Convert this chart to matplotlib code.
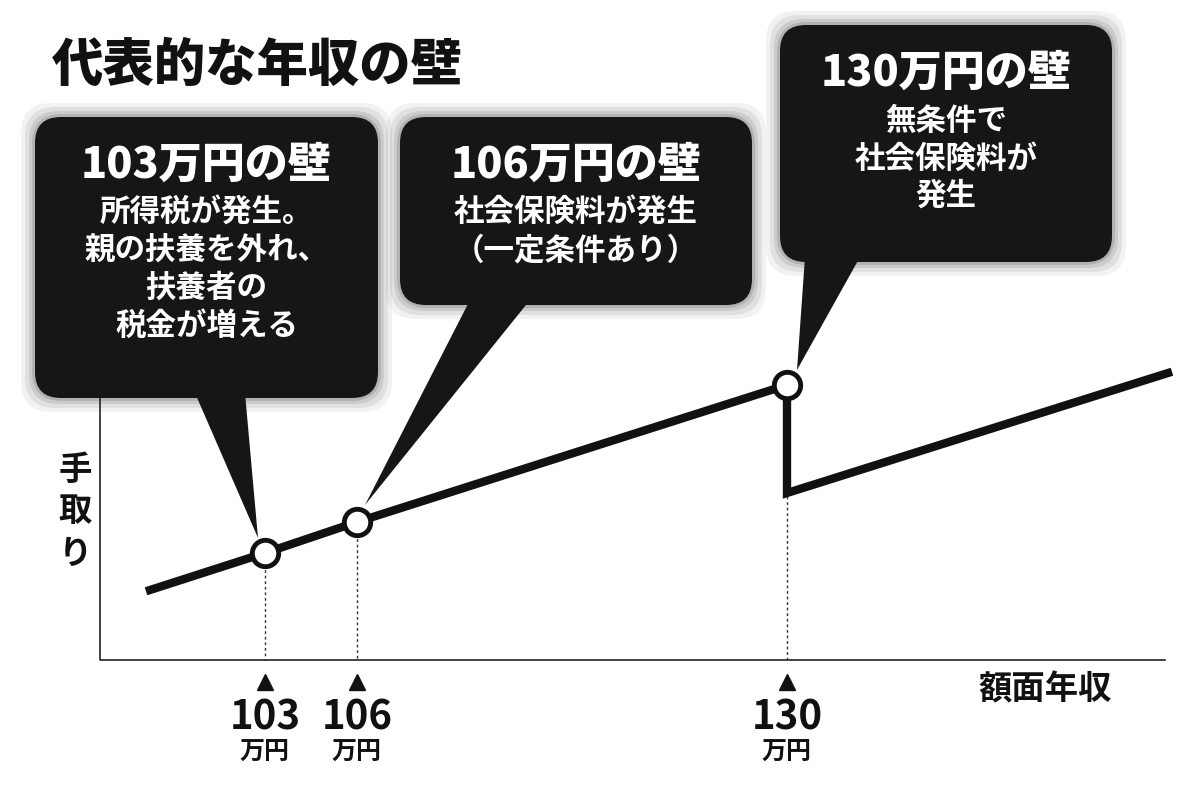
import numpy as np
import matplotlib.pyplot as plt
from matplotlib.patches import FancyBboxPatch, Polygon

plt.rcParams['font.family'] = ['Noto Sans CJK JP', 'DejaVu Sans']

# schematic line in picture units (x: left->right, y: top->bottom)
line_x = [150, 265, 357, 787, 787, 1168]
line_y = [590, 553, 522, 385, 493, 373]
wall_x = [265, 357, 787]
wall_y = [553, 522, 385]
wall_num = ['103', '106', '130']

boxes = [
    # x0, y0, x1, y1, tip, base, title, body
    (35, 117, 378, 398, (258, 538), (195, 245), '103万円の壁',
     '所得税が発生。\n親の扶養を外れ、\n扶養者の\n税金が増える'),
    (400, 117, 752, 305, (365, 505), (470, 530), '106万円の壁',
     '社会保険料が発生\n（一定条件あり）'),
    (780, 25, 1112, 262, (797, 370), (805, 860), '130万円の壁',
     '無条件で\n社会保険料が\n発生'),
]

fig = plt.figure(figsize=(12, 8.08), dpi=100)
ax = fig.add_axes([0, 0, 1, 1])
ax.set_xlim(0, 1200)
ax.set_ylim(808, 0)
ax.axis('off')

# axes frame
ax.plot([100, 100, 1165], [395, 660, 660], color='#222', lw=1.2)

ax.text(52, 66, '代表的な年収の壁', fontsize=37, fontweight='black',
        va='center', ha='left', color='#111')

# callouts with soft shadow
for x0, y0, x1, y1, tip, base, title, body in boxes:
    for k, a in [(14, 0.05), (10, 0.07), (6, 0.09), (3, 0.12)]:
        ax.add_patch(FancyBboxPatch((x0 - k, y0 - k), x1 - x0 + 2 * k, y1 - y0 + 2 * k,
                                    boxstyle='round,pad=0,rounding_size=30',
                                    fc='black', ec='none', alpha=a, zorder=1))
    ax.add_patch(FancyBboxPatch((x0, y0), x1 - x0, y1 - y0,
                                boxstyle='round,pad=0,rounding_size=26',
                                fc='#161616', ec='none', zorder=2))
    ax.add_patch(Polygon([(base[0], y1 - 5), (base[1], y1 - 5), tip],
                         closed=True, fc='#161616', ec='none', zorder=2))
    cx = (x0 + x1) / 2
    ax.text(cx, y0 + 48, title, fontsize=31, fontweight='black', color='white',
            ha='center', va='center', zorder=3)
    ax.text(cx, y0 + 80, body, fontsize=22, fontweight='bold', color='white',
            ha='center', va='top', linespacing=1.22, zorder=3)

# dotted guides, markers and labels
for x, y, n in zip(wall_x, wall_y, wall_num):
    ax.plot([x, x], [y, 660], color='#333', lw=1, ls=(0, (2, 2)), zorder=3)
    ax.plot(x, 682, marker='^', ms=12, color='#111', zorder=3)
    ax.text(x, 718, n, fontsize=29, fontweight='bold', ha='center', va='center',
            color='#111')
    ax.text(x, 753, '万円', fontsize=18, fontweight='bold', ha='center', va='center',
            color='#111')

ax.plot(line_x, line_y, color='#111', lw=6, solid_joinstyle='miter', zorder=4)
ax.plot(wall_x, wall_y, 'o', ms=19, mfc='white', mec='#111', mew=3.5, zorder=5)

for i, ch in enumerate('手取り'):
    ax.text(75, 470 + i * 42, ch, fontsize=24, fontweight='bold', ha='center',
            va='center', color='#111')
ax.text(1045, 690, '額面年収', fontsize=24, fontweight='bold', ha='center',
        va='center', color='#111')

fig.savefig('out.png', dpi=100)
